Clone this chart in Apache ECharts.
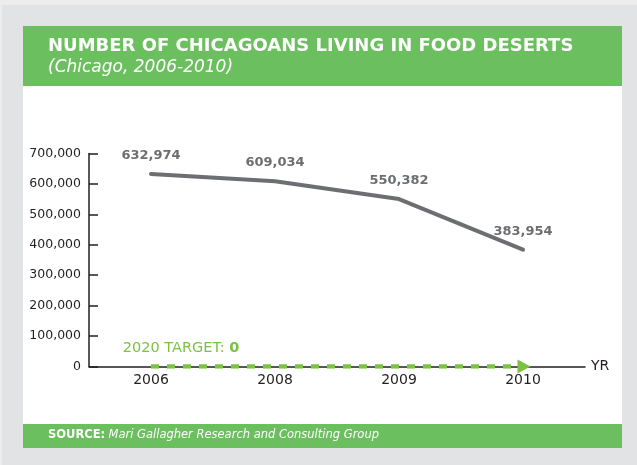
<!DOCTYPE html>
<html>
<head>
<meta charset="utf-8">
<script src="https://cdn.jsdelivr.net/npm/echarts@6/dist/echarts.min.js"></script>
<style>
  html, body { margin: 0; padding: 0; background: #e1e3e4; }
  #chart { width: 637px; height: 465px; }
</style>
</head>
<body>
<div id="chart"></div>
<script>
  // data
  var years = ['2006', '2008', '2009', '2010'];
  var residents = [632974, 609034, 550382, 383954];
  var target = [0, 0, 0, 0];
  var yTicks = [0, 100000, 200000, 300000, 400000, 500000, 600000, 700000];

  var green = '#6cbf5f';
  var targetGreen = '#7cc242';
  var lineGrey = '#6d6e71';
  var ink = '#231f20';
  var font = '"DejaVu Sans", sans-serif';

  function fmt(v) {
    return v.toLocaleString('en-US');
  }

  var chart = echarts.init(document.getElementById('chart'));

  var targetData = target.map(function (v, i) {
    var item = { value: v, symbol: 'circle', symbolSize: 0 };
    if (i === 0) {
      item.label = {
        show: true,
        position: 'top',
        offset: [30, -6],
        formatter: '{a|2020 TARGET: }{b|0}',
        rich: {
          a: { color: targetGreen, fontSize: 14.5, fontFamily: font },
          b: { color: targetGreen, fontSize: 14.5, fontFamily: font, fontWeight: 'bold' }
        }
      };
    }
    if (i === target.length - 1) {
      item.symbol = 'triangle';
      item.symbolSize = [14, 13];
      item.symbolRotate = -90;
      item.symbolOffset = [1, 0];
      item.itemStyle = { color: targetGreen };
    }
    return item;
  });

  chart.setOption({
    animation: false,
    backgroundColor: '#e1e3e4',
    graphic: [
      { type: 'rect', shape: { x: 0, y: 0, width: 637, height: 5 }, style: { fill: '#ecedec' }, silent: true, z: -10 },
      { type: 'rect', shape: { x: 0, y: 0, width: 2, height: 465 }, style: { fill: '#ecedec' }, silent: true, z: -10 },
      { type: 'rect', shape: { x: 23, y: 26, width: 599, height: 398 }, style: { fill: '#ffffff' }, silent: true, z: -10 },
      { type: 'rect', shape: { x: 23, y: 26, width: 599, height: 60 }, style: { fill: green }, silent: true, z: -9 },
      { type: 'rect', shape: { x: 23, y: 424, width: 599, height: 24 }, style: { fill: green }, silent: true, z: -9 },
      {
        type: 'text', left: 48, top: 37, silent: true,
        style: { text: 'NUMBER OF CHICAGOANS LIVING IN FOOD DESERTS', fill: '#ffffff', font: 'bold 18px ' + font }
      },
      {
        type: 'text', left: 48, top: 59, silent: true,
        style: { text: '(Chicago, 2006-2010)', fill: '#ffffff', font: 'italic 17px ' + font }
      },
      {
        type: 'text', left: 48, top: 429, silent: true,
        style: {
          text: '{s|SOURCE:} {m|Mari Gallagher Research and Consulting Group}',
          rich: {
            s: { fill: '#ffffff', font: 'bold 11.5px ' + font },
            m: { fill: '#ffffff', font: 'italic 11.5px ' + font }
          }
        }
      }
    ],
    grid: { left: 89, top: 153.5, width: 496, height: 213, containLabel: false },
    xAxis: {
      type: 'category',
      data: years,
      boundaryGap: true,
      name: 'YR',
      nameLocation: 'end',
      nameGap: 6,
      nameTextStyle: { color: ink, fontSize: 14, fontFamily: font, verticalAlign: 'middle' },
      axisLine: { lineStyle: { color: ink, width: 1.5 } },
      axisTick: { inside: true, length: 6, lineStyle: { color: ink, width: 1.5 } },
      axisLabel: { color: ink, fontSize: 14, fontFamily: font, margin: 7 }
    },
    yAxis: {
      type: 'value',
      min: yTicks[0],
      max: yTicks[yTicks.length - 1],
      interval: yTicks[1] - yTicks[0],
      splitLine: { show: false },
      axisLine: { show: true, lineStyle: { color: ink, width: 1.5 } },
      axisTick: { show: true, inside: true, length: 9, lineStyle: { color: ink, width: 1.5 } },
      axisLabel: { color: ink, fontSize: 12.5, fontFamily: font, margin: 8, formatter: fmt }
    },
    series: [
      {
        name: 'Residents',
        type: 'line',
        data: residents,
        symbol: 'circle',
        symbolSize: 0,
        itemStyle: { color: lineGrey },
        lineStyle: { color: lineGrey, width: 4, cap: 'round' },
        label: {
          show: true,
          position: 'top',
          distance: 12,
          color: lineGrey,
          fontSize: 13,
          fontWeight: 'bold',
          fontFamily: font,
          formatter: function (p) { return fmt(p.value); }
        },
        z: 3
      },
      {
        name: '2020 Target',
        type: 'line',
        data: targetData,
        itemStyle: { color: targetGreen },
        lineStyle: { color: targetGreen, width: 4.5, type: [8, 8] },
        z: 4
      }
    ]
  });
</script>
</body>
</html>
